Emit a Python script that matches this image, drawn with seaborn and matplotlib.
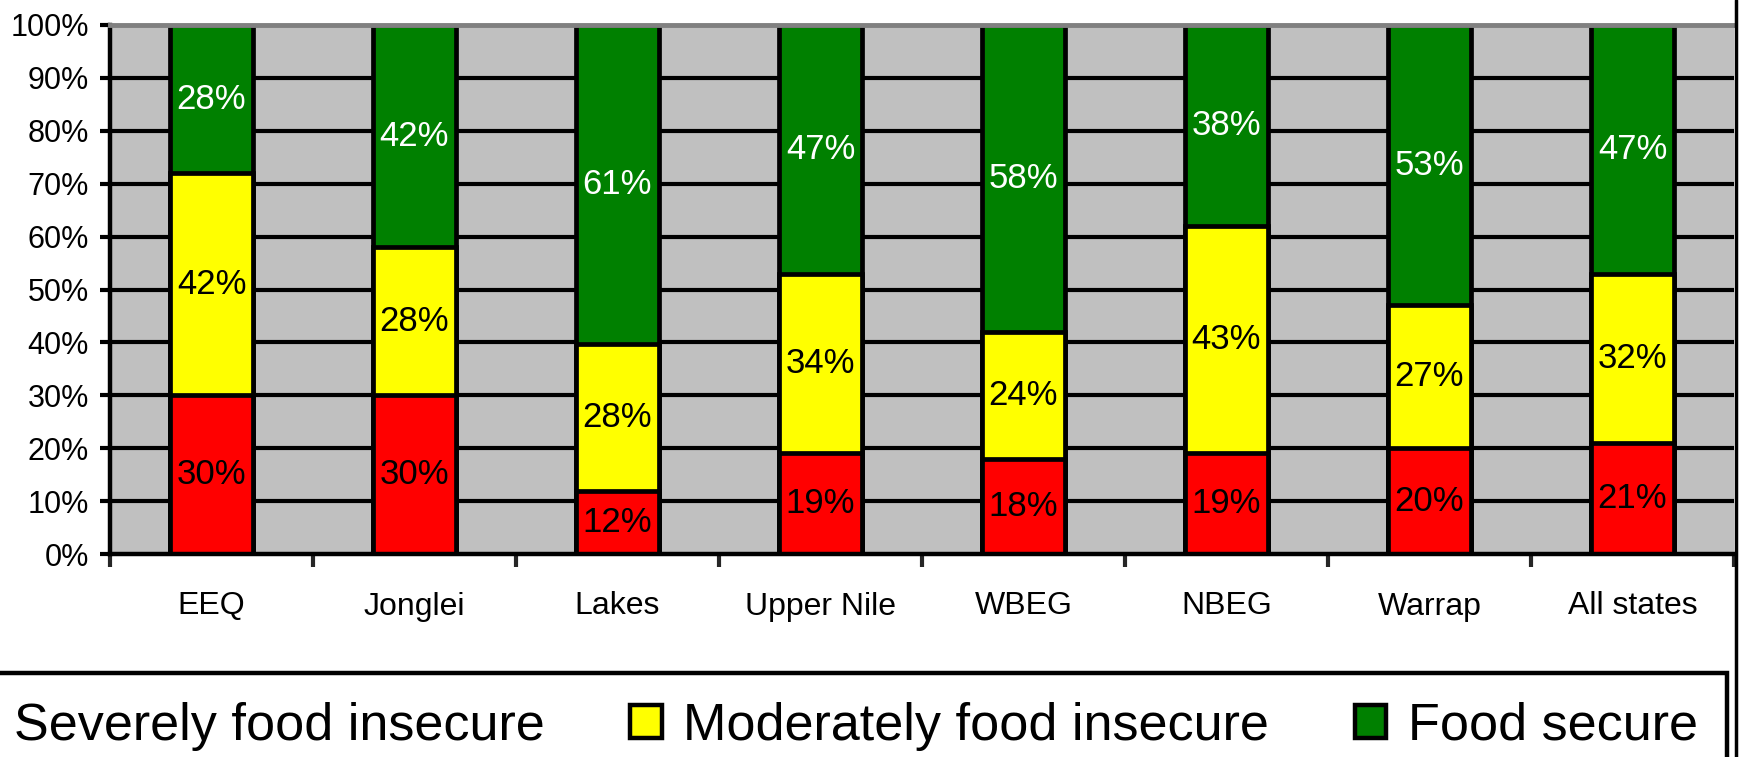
import numpy as np
import pandas as pd
import seaborn as sns
import matplotlib.pyplot as plt
from matplotlib.patches import Patch
from matplotlib.lines import Line2D

states = ["EEQ", "Jonglei", "Lakes", "Upper Nile", "WBEG", "NBEG", "Warrap", "All states"]
severe = [30, 30, 12, 19, 18, 19, 20, 21]
moderate = [42, 28, 28, 34, 24, 43, 27, 32]
secure = [28, 42, 61, 47, 58, 38, 53, 47]

series_names = ["Severely food insecure", "Moderately food insecure", "Food secure"]
colors = ["#FF0000", "#FFFF00", "#008000"]
label_colors = ["black", "black", "white"]
yticks = [0, 10, 20, 30, 40, 50, 60, 70, 80, 90, 100]

sns.set_theme(style="ticks")
plt.rcParams["font.family"] = ["Liberation Sans", "DejaVu Sans"]
plt.rcParams["text.color"] = "black"

df = pd.DataFrame({"severe": severe, "moderate": moderate, "secure": secure}, index=states)
# 100% stacked: heights are shares of the row total, labels show the raw values
share = df.div(df.sum(axis=1), axis=0) * 100
cum = share.cumsum(axis=1)
cum["state"] = states

W, H = 1740, 757
fig = plt.figure(figsize=(W / 100, H / 100), dpi=100)
ax = fig.add_axes([110 / W, 1 - 554 / H, 1624 / W, 529 / H])
ax.set_facecolor("#C0C0C0")

for y in yticks[1:-1]:
    ax.axhline(y, color="black", lw=3, zorder=0.5)

# draw the cumulative totals back to front so each layer sits on the one below
for col, c in zip(["secure", "moderate", "severe"], colors[::-1]):
    sns.barplot(data=cum, x="state", y=col, color=c, saturation=1, width=0.41,
                edgecolor="black", linewidth=3.4, errorbar=None, ax=ax, zorder=2)

raw = [severe, moderate, secure]
for k, col in enumerate(["severe", "moderate", "secure"]):
    lo = cum[col] - share[col]
    mid = lo + share[col] / 2
    for i in range(len(states)):
        ax.text(i, mid.iloc[i], f"{raw[k][i]}%", ha="center", va="center",
                fontsize=25, color=label_colors[k], zorder=3)

ax.set_xlim(-0.5, len(states) - 0.5)
ax.set_ylim(0, 100)
ax.set_xlabel("")
ax.set_ylabel("")

ax.set_yticks(yticks)
ax.set_yticklabels([f"{v}%" for v in yticks])
ax.tick_params(axis="y", direction="out", length=7.2, width=3, pad=8,
               labelsize=22, colors="black", left=True)

ax.set_xticks(np.arange(-0.5, len(states), 1))
ax.set_xticklabels([])
ax.set_xticks(range(len(states)), minor=True)
ax.set_xticklabels(states, minor=True)
ax.tick_params(axis="x", which="major", direction="out", length=9.4, width=3, bottom=True)
ax.tick_params(axis="x", which="minor", length=0, pad=27, labelsize=23, colors="black")

for s in ["left", "bottom"]:
    ax.spines[s].set_color("black")
    ax.spines[s].set_linewidth(3.2)
ax.spines["top"].set_visible(True)
ax.spines["top"].set_color("#808080")
ax.spines["top"].set_linewidth(3.5)
ax.spines["right"].set_visible(False)

handles = [Patch(facecolor=c, edgecolor="black", linewidth=3.2) for c in colors]
leg = fig.legend(handles, series_names, loc="upper right",
                 bbox_to_anchor=(1727 / W, 1 - 673 / H), ncol=3, frameon=True,
                 fancybox=False, edgecolor="black", framealpha=1, fontsize=37.5,
                 labelcolor="black", handlelength=0.6, handleheight=0.6,
                 handletextpad=0.42, columnspacing=1.65, borderpad=0.55,
                 borderaxespad=0)
leg.get_frame().set_linewidth(3.2)

fig.add_artist(Line2D([1736.5 / W] * 2, [0, 1], color="black", lw=2.5,
                      transform=fig.transFigure))

fig.savefig("out.png", dpi=100)
